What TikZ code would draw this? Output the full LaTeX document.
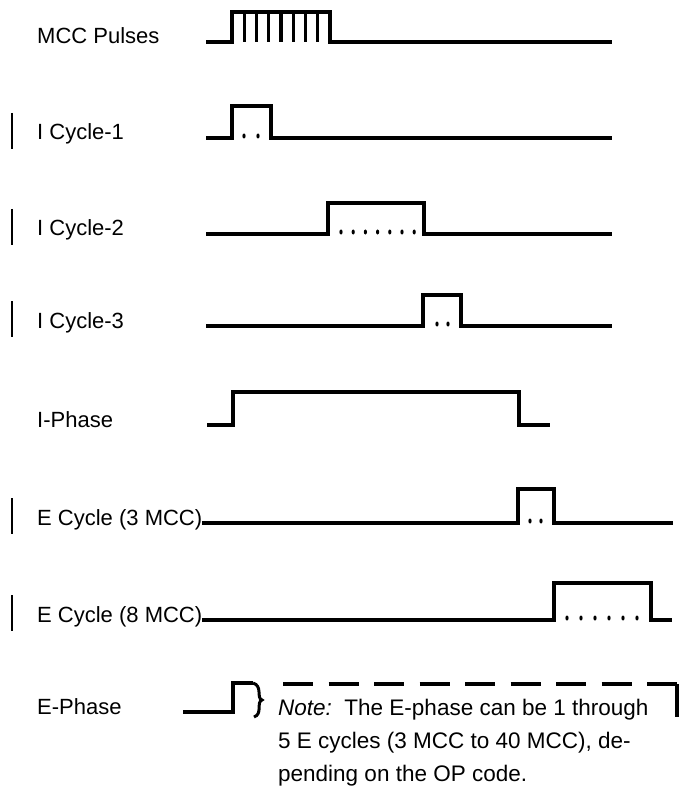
\documentclass[tikz,border=0pt]{standalone}
\usepackage{fontspec}
\setmainfont{Liberation Sans}

\begin{document}
\begin{tikzpicture}[x=1pt, y=-1pt,
    wave/.style={line width=3.2pt, line join=miter},
    sig/.style={font=\fontsize{22}{26}\selectfont, anchor=base west, inner sep=0pt},
    chgbar/.style={line width=2.4pt},
    dot/.style={fill=black},
    notetext/.style={font=\fontsize{22.5}{33}\selectfont, align=left, anchor=north west, inner sep=0pt}
]
\useasboundingbox (0,0) rectangle (678,786);

% signal names
\node[sig] (mcc) at (37,44) {MCC Pulses};
\node[sig] (icA) at (37,140) {I Cycle-1};
\node[sig] (icB) at (37,236) {I Cycle-2};
\node[sig] (icC) at (37,328) {I Cycle-3};
\node[sig] (iph) at (37,427) {I-Phase};
\node[sig] (ecA) at (37,525) {E Cycle (3 MCC)};
\node[sig] (ecB) at (37,622) {E Cycle (8 MCC)};
\node[sig] (eph) at (37,714) {E-Phase};

% change bars
\foreach \y in {138,234,326,523,620}
  \draw[chgbar] (12,\y-25) -- (12,\y+11);

% MCC pulses
\draw[wave] (206,42) -- (232,42) -- (232,12) -- (330,12) -- (330,42) -- (612,42);
\foreach \k in {1,...,7}
  \draw[wave] ({232+12.25*\k},12) -- ++(0,30);

% I cycles
\draw[wave] (206,138) -- (232,138) -- (232,106) -- (271,106) -- (271,138) -- (612,138);
\foreach \x in {244,258}
  \fill[dot] (\x,136) ellipse (1.6 and 2.5);
\draw[wave] (206,234) -- (328,234) -- (328,203) -- (424,203) -- (424,234) -- (612,234);
\foreach \x in {341,353.2,...,415}
  \fill[dot] (\x,232) ellipse (1.6 and 2.5);
\draw[wave] (206,326) -- (423,326) -- (423,295) -- (461,295) -- (461,326) -- (612,326);
\foreach \x in {437,448}
  \fill[dot] (\x,324) ellipse (1.6 and 2.5);
\draw[wave] (207,425) -- (233,425) -- (233,392) -- (519,392) -- (519,425) -- (550,425);

% E cycles
\draw[wave] (ecA.east |- 0,523) -- (518,523) -- (518,489) -- (554,489) -- (554,523) -- (673,523);
\foreach \x in {530,541}
  \fill[dot] (\x,521) ellipse (1.6 and 2.5);
\draw[wave] (ecB.east |- 0,620) -- (554,620) -- (554,583) -- (651,583) -- (651,620) -- (672,620);
\foreach \x in {567,581,...,640}
  \fill[dot] (\x,618) ellipse (1.6 and 2.5);

% E phase with note
\draw[wave] (183,712) -- (233,712) -- (233,683) -- (253,683);
\draw[line width=3pt] (253,683) .. controls (263,686) and (256,698) .. (262,700)
  .. controls (256,702) and (263,714) .. (254,717);
\draw[wave, dash pattern=on 30pt off 15.5pt] (283,684) -- (677,684);
\draw[wave] (677,684) -- (677,717);
\node[notetext] (note) at (278,699) {\textit{Note:}\ \ The E-phase can be 1 through\\5 E cycles (3 MCC to 40 MCC), de-\\pending on the OP code.};
\end{tikzpicture}
\end{document}
